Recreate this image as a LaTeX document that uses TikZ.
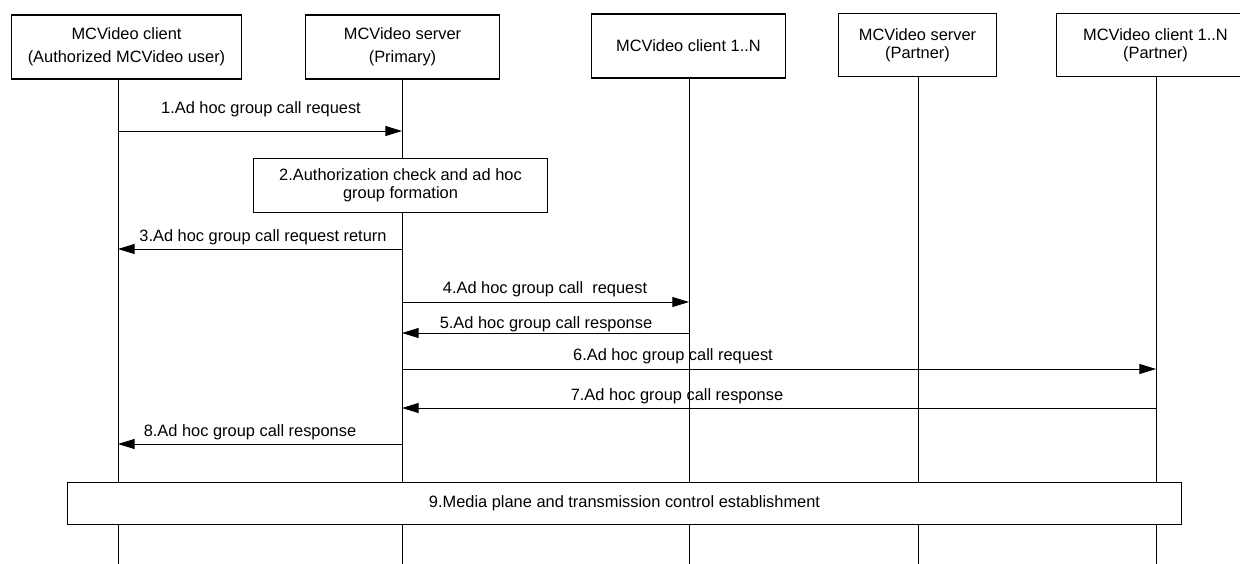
\documentclass[tikz,border=0pt]{standalone}
\usepackage{fontspec}
\setmainfont{Liberation Sans}
\usetikzlibrary{arrows.meta,positioning}

\begin{document}
\begin{tikzpicture}[
    x=0.75pt, y=-0.75pt,
    font=\fontsize{12.3}{17}\selectfont,
    actor/.style={rectangle, draw, line width=0.8pt, minimum height=48pt, inner sep=0pt, align=center},
    step box/.style={rectangle, draw, fill=white, line width=0.8pt, inner sep=0pt, align=center},
    life/.style={line width=0.75pt},
    msg/.style={-{Triangle[length=12.5pt, width=7.5pt]}, line width=0.75pt},
    lbl/.style={inner sep=0pt, anchor=center}
  ]
    \useasboundingbox (0,0) rectangle (1240,564);

    % actors
    \node[actor, minimum width=173pt] (cli) at (126.5,47) {MCVideo client\\(Authorized MCVideo user)};
    \node[actor, minimum width=145pt] (srv) at (402.5,47) {MCVideo server\\(Primary)};
    \node[actor, minimum width=145pt] (grp) at (688.5,46) {MCVideo client 1..N};
    \node[actor, minimum width=118pt, minimum height=47pt, font=\fontsize{12.3}{13.5}\selectfont] (psrv) at (917.5,45) {MCVideo server\\(Partner)};
    \node[actor, minimum width=148pt, minimum height=47pt, font=\fontsize{12.3}{13.5}\selectfont] (pgrp) at (1155.5,45) {MCVideo client 1..N\\(Partner)};

    % lifelines
    \coordinate (cliT) at (118,78);
    \coordinate (srvT) at (402,78);
    \coordinate (grpT) at (689,78);
    \coordinate (psrvT) at (918,76);
    \coordinate (pgrpT) at (1156,76);
    \coordinate (bottom) at (0,564);
    \draw[life] (cliT) -- (cliT |- bottom);
    \draw[life] (srvT) -- (srvT |- bottom);
    \draw[life] (grpT) -- (grpT |- bottom);
    \draw[life] (psrvT) -- (psrvT |- bottom);
    \draw[life] (pgrpT) -- (pgrpT |- bottom);

    % messages
    \draw[msg] (cliT |- 0,131) -- (srvT |- 0,131);
    \node[lbl] (m1) at (261,109) {1.Ad hoc group call request};

    \node[step box, minimum width=221pt, minimum height=41pt, font=\fontsize{12.3}{13.5}\selectfont] (auth) at (400.5,185.5) {2.Authorization check and ad hoc\\group formation};

    \draw[msg] (srvT |- 0,249) -- (cliT |- 0,249);
    \node[lbl] (m3) at (263,237) {3.Ad hoc group call request return};

    \draw[msg] (srvT |- 0,302) -- (grpT |- 0,302);
    \node[lbl] (m4) at (545,289) {4.Ad hoc group call\ \ request};

    \draw[msg] (grpT |- 0,333) -- (srvT |- 0,333);
    \node[lbl] (m5) at (546,324) {5.Ad hoc group call response};

    \draw[msg] (srvT |- 0,369) -- (pgrpT |- 0,369);
    \node[lbl] (m6) at (673,356) {6.Ad hoc group call request};

    \draw[msg] (pgrpT |- 0,408) -- (srvT |- 0,408);
    \node[lbl] (m7) at (677,396) {7.Ad hoc group call response};

    \draw[msg] (srvT |- 0,444) -- (cliT |- 0,444);
    \node[lbl] (m8) at (250,432) {8.Ad hoc group call response};

    \node[step box, minimum width=835pt, minimum height=32pt] (media) at (624.5,503.5) {9.Media plane and transmission control establishment};
  \end{tikzpicture}
\end{document}
